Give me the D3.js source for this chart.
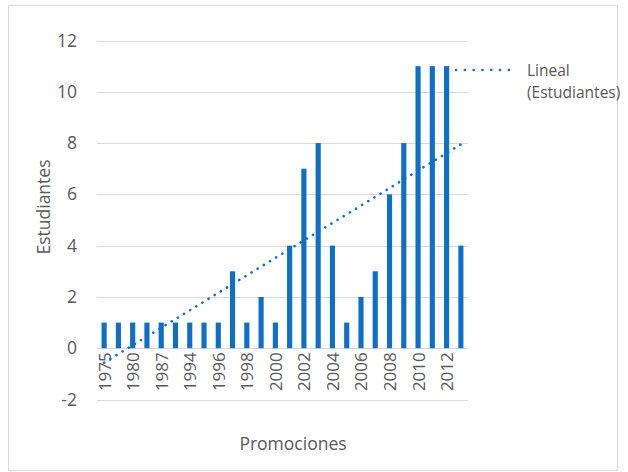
<!DOCTYPE html>
<html>
<head>
<meta charset="utf-8">
<script src="https://cdn.jsdelivr.net/npm/d3@7"></script>
<style>
  html, body { margin: 0; padding: 0; background: #fff; }
  svg { display: block; }
</style>
</head>
<body>
<svg id="chart" width="628" height="472"></svg>
<script>
// ---- data ----
const categories = ["1975","1978","1980","1985","1987","1990","1994","1995","1996","1997","1998","1999","2000",
                    "2001","2002","2003","2004","2005","2006","2007","2008","2009","2010","2011","2012","2013"];
const estudiantes = [1,1,1,1,1,1,1,1,1,3,1,2,1,4,7,8,4,1,2,3,6,8,11,11,11,4];
const yTicks = [-2,0,2,4,6,8,10,12];
const xTitle = "Promociones";
const yTitle = "Estudiantes";
const legendLines = ["Lineal", "(Estudiantes)"];

// ---- layout ----
const svg = d3.select("#chart");
const plot = { left: 97, right: 468, top: 40.5, bottom: 399.5 };
const txt = "#595959", grid = "#d9d9d9", blue = "#0f6fc6";
const font = "'Open Sans', 'Noto Sans', sans-serif";

svg.append("rect").attr("x", 8.5).attr("y", 5.5).attr("width", 609).attr("height", 465)
  .attr("fill", "#fff").attr("stroke", grid).attr("stroke-width", 1);

const x = d3.scaleBand().domain(categories).range([plot.left, plot.right]).paddingInner(0.64).paddingOuter(0.32);
const y = d3.scaleLinear().domain([-2, 12]).range([plot.bottom, plot.top]);

// gridlines
svg.append("g").selectAll("line").data(yTicks).join("line")
  .attr("x1", plot.left).attr("x2", plot.right)
  .attr("y1", d => Math.round(y(d)) + 0.5).attr("y2", d => Math.round(y(d)) + 0.5)
  .attr("stroke", grid).attr("stroke-width", 1);

// y axis labels
const yAxis = d3.axisLeft(y).tickValues(yTicks).tickSize(0).tickPadding(0).tickFormat(d => String(d));
const yg = svg.append("g").attr("transform", `translate(77,0)`).call(yAxis);
yg.select(".domain").remove();
yg.selectAll("text").attr("fill", txt).style("font-family", font).style("font-size", "17.5px");

// bars
svg.append("g").selectAll("rect").data(estudiantes).join("rect")
  .attr("x", (d, i) => x(categories[i]))
  .attr("width", x.bandwidth())
  .attr("y", d => y(Math.max(0, d)))
  .attr("height", d => Math.abs(y(d) - y(0)))
  .attr("fill", blue);

// x tick labels (every other)
const xAxis = d3.axisBottom(x).tickSize(0).tickPadding(0)
  .tickValues(categories.filter((c, i) => i % 2 === 0));
const xg = svg.append("g").attr("transform", `translate(0,${y(0)})`).call(xAxis);
xg.select(".domain").remove();
xg.selectAll("text")
  .attr("fill", txt).style("font-family", font).style("font-size", "17px")
  .attr("y", 0).attr("dy", null)
  .attr("transform", "translate(0,4) rotate(-90)")
  .attr("text-anchor", "end").attr("dominant-baseline", "central");

// linear trend (least squares over category index)
const n = estudiantes.length;
const idx = d3.range(1, n + 1);
const mx = d3.mean(idx), my = d3.mean(estudiantes);
const slope = d3.sum(idx, (v, i) => (v - mx) * (estudiantes[i] - my)) / d3.sum(idx, v => (v - mx) ** 2);
const intercept = my - slope * mx;
const cx = i => x(categories[i]) + x.bandwidth() / 2;
svg.append("line")
  .attr("x1", cx(0)).attr("y1", y(intercept + slope * 1))
  .attr("x2", cx(n - 1)).attr("y2", y(intercept + slope * n))
  .attr("stroke", blue).attr("stroke-width", 2.6)
  .attr("stroke-linecap", "round").attr("stroke-dasharray", "0.1 7.1");

// legend
svg.append("line").attr("x1", 456).attr("x2", 517).attr("y1", 70).attr("y2", 70)
  .attr("stroke", blue).attr("stroke-width", 2.6)
  .attr("stroke-linecap", "round").attr("stroke-dasharray", "0.1 8.7");
svg.append("g").selectAll("text").data(legendLines).join("text")
  .attr("x", 527).attr("y", (d, i) => 70 + i * 22)
  .attr("dominant-baseline", "central")
  .attr("fill", txt).style("font-family", font).style("font-size", "15.5px")
  .text(d => d);

// axis titles
svg.append("text").attr("x", 293).attr("y", 443)
  .attr("text-anchor", "middle").attr("dominant-baseline", "central")
  .attr("fill", txt).style("font-family", font).style("font-size", "17.5px").text(xTitle);
svg.append("text").attr("transform", `translate(43,207) rotate(-90)`)
  .attr("text-anchor", "middle").attr("dominant-baseline", "central")
  .attr("fill", txt).style("font-family", font).style("font-size", "17.5px").text(yTitle);
</script>
</body>
</html>
